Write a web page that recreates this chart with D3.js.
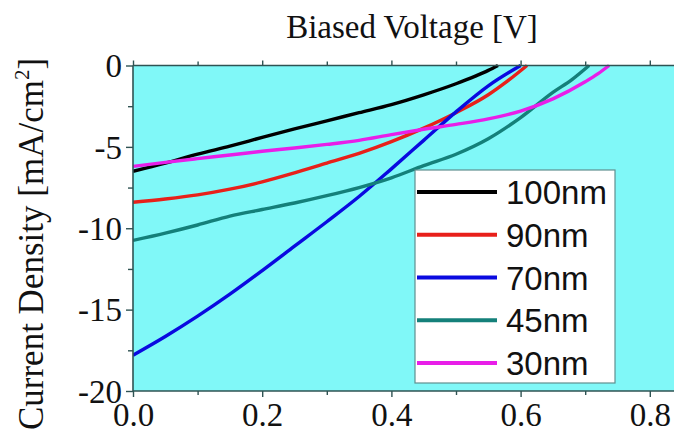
<!DOCTYPE html>
<html>
<head>
<meta charset="utf-8">
<script src="https://cdn.jsdelivr.net/npm/d3@7"></script>
<style>
  html, body { margin: 0; padding: 0; background: #fff; }
  svg { display: block; }
</style>
</head>
<body>
<div id="chart"></div>
<script>
// series: [voltage V, current density mA/cm^2]
const seriesNames = ["100nm", "90nm", "70nm", "45nm", "30nm"];
const seriesColors = ["#000000", "#e8201a", "#0a0ae0", "#14807a", "#e81ee8"];

const curve100 = [[0, -6.5], [0.05, -6.0], [0.1, -5.45], [0.15, -4.95], [0.2, -4.42], [0.25, -3.9],
  [0.3, -3.4], [0.35, -2.9], [0.4, -2.4], [0.45, -1.8], [0.5, -1.12], [0.53, -0.65], [0.55, -0.3], [0.565, 0]];
const curve90 = [[0, -8.4], [0.05, -8.2], [0.1, -7.95], [0.15, -7.6], [0.2, -7.15], [0.25, -6.6],
  [0.3, -6.0], [0.35, -5.4], [0.4, -4.68], [0.45, -3.85], [0.5, -2.9], [0.55, -1.8], [0.58, -0.95], [0.61, 0]];
const curve70 = [[0, -17.8], [0.05, -16.65], [0.1, -15.4], [0.15, -14.05], [0.2, -12.6], [0.25, -11.1],
  [0.3, -9.6], [0.35, -8.05], [0.4, -6.35], [0.45, -4.6], [0.5, -2.85], [0.55, -1.25], [0.6, 0]];
const curve45 = [[0, -10.75], [0.05, -10.3], [0.1, -9.8], [0.15, -9.25], [0.2, -8.85], [0.25, -8.45],
  [0.3, -8.0], [0.35, -7.5], [0.4, -6.9], [0.45, -6.15], [0.5, -5.45], [0.55, -4.5], [0.6, -3.2],
  [0.65, -1.65], [0.68, -0.85], [0.706, 0]];
const curve30 = [[0, -6.2], [0.05, -5.95], [0.1, -5.72], [0.15, -5.5], [0.2, -5.27], [0.25, -5.07],
  [0.3, -4.85], [0.35, -4.6], [0.4, -4.25], [0.45, -3.92], [0.5, -3.62], [0.55, -3.28], [0.6, -2.8],
  [0.65, -2.05], [0.7, -1.0], [0.72, -0.5], [0.737, 0]];
const allCurves = [curve100, curve90, curve70, curve45, curve30];

const xMajorTicks = [0, 0.2, 0.4, 0.6, 0.8];
const xMinorTicks = [0.1, 0.3, 0.5, 0.7];
const yMajorTicks = [0, -5, -10, -15, -20];
const yMinorTicks = [-2.5, -7.5, -12.5, -17.5];

const W = 674, H = 432;
const plotLeft = 133, plotTop = 65.5, plotBottom = 391;
const serif = "'Liberation Serif', 'Times New Roman', serif";
const sans = "'Liberation Sans', Arial, sans-serif";
const axisColor = "#2f5353";

const x = d3.scaleLinear().domain([0, 0.8]).range([plotLeft, plotLeft + 516.8]);
const y = d3.scaleLinear().domain([-20, 0]).range([plotBottom, plotTop]);

const svg = d3.select("#chart").append("svg")
  .attr("width", W).attr("height", H);

// plot background
svg.append("rect")
  .attr("x", plotLeft).attr("y", plotTop)
  .attr("width", W - plotLeft).attr("height", plotBottom - plotTop)
  .attr("fill", "#80f8f8");

svg.append("defs").append("clipPath").attr("id", "clip")
  .append("rect").attr("x", plotLeft).attr("y", plotTop - 2)
  .attr("width", W - plotLeft).attr("height", plotBottom - plotTop + 2);

const line = d3.line()
  .x(d => x(d[0]))
  .y(d => y(d[1]))
  .curve(d3.curveMonotoneX);

const plot = svg.append("g").attr("clip-path", "url(#clip)");
allCurves.forEach((c, i) => {
  plot.append("path")
    .datum(c)
    .attr("fill", "none")
    .attr("stroke", seriesColors[i])
    .attr("stroke-width", 3.4)
    .attr("stroke-linejoin", "round")
    .attr("d", line);
});

// axes (plain hyphen minus like the original)
const xAxisBottom = d3.axisBottom(x).tickValues(xMajorTicks).tickSize(6).tickFormat(d => d.toFixed(1));
const xAxisBottomMinor = d3.axisBottom(x).tickValues(xMinorTicks).tickSize(4).tickFormat("");
const xAxisTop = d3.axisTop(x).tickValues(xMajorTicks).tickSize(5).tickFormat("");
const xAxisTopMinor = d3.axisTop(x).tickValues(xMinorTicks).tickSize(4).tickFormat("");
const yAxis = d3.axisLeft(y).tickValues(yMajorTicks).tickSize(7).tickPadding(4).tickFormat(d => String(d));
const yAxisMinor = d3.axisLeft(y).tickValues(yMinorTicks).tickSize(5).tickFormat("");

function styleAxis(g) {
  g.select(".domain").remove();
  g.selectAll(".tick line").attr("stroke", axisColor).attr("stroke-width", 1.4);
  g.selectAll(".tick text").attr("fill", "#111").style("font-family", serif).style("font-size", "33px");
}

svg.append("g").attr("transform", `translate(0,${plotBottom})`).call(xAxisBottom).call(styleAxis)
  .selectAll(".tick text").attr("dy", "0.72em").attr("y", 11);
svg.append("g").attr("transform", `translate(0,${plotBottom})`).call(xAxisBottomMinor).call(styleAxis);
svg.append("g").attr("transform", `translate(0,${plotTop})`).call(xAxisTop).call(styleAxis);
svg.append("g").attr("transform", `translate(0,${plotTop})`).call(xAxisTopMinor).call(styleAxis);
svg.append("g").attr("transform", `translate(${plotLeft},0)`).call(yAxis).call(styleAxis)
  .selectAll(".tick text").attr("dy", "0.34em");
svg.append("g").attr("transform", `translate(${plotLeft},0)`).call(yAxisMinor).call(styleAxis);

// axis lines
svg.append("line").attr("x1", plotLeft).attr("x2", W).attr("y1", plotTop).attr("y2", plotTop)
  .attr("stroke", axisColor).attr("stroke-width", 1.6);
svg.append("line").attr("x1", plotLeft).attr("x2", W).attr("y1", plotBottom).attr("y2", plotBottom)
  .attr("stroke", axisColor).attr("stroke-width", 1.6);
svg.append("line").attr("x1", plotLeft).attr("x2", plotLeft).attr("y1", plotTop).attr("y2", plotBottom)
  .attr("stroke", axisColor).attr("stroke-width", 1.6);

// titles
svg.append("text")
  .attr("x", 412).attr("y", 38)
  .attr("text-anchor", "middle")
  .style("font-family", serif).style("font-size", "33px").attr("fill", "#111")
  .text("Biased Voltage [V]");

const yTitle = svg.append("text")
  .attr("transform", "translate(43,244) rotate(-90)")
  .attr("text-anchor", "middle")
  .style("font-family", serif).style("font-size", "35px").attr("fill", "#111");
yTitle.append("tspan").text("Current Density [mA/cm");
yTitle.append("tspan").attr("dy", -14).style("font-size", "21px").text("2");
yTitle.append("tspan").attr("dy", 14).text("]");

// legend
const legend = svg.append("g");
legend.append("rect")
  .attr("x", 415).attr("y", 170).attr("width", 200).attr("height", 213)
  .attr("fill", "#fff").attr("stroke", "#5f8f8f").attr("stroke-width", 1.2);
const legendRowY = d3.scalePoint().domain(seriesNames).range([192, 363]);
seriesNames.forEach((name, i) => {
  const ry = legendRowY(name);
  legend.append("line")
    .attr("x1", 417).attr("x2", 497).attr("y1", ry).attr("y2", ry)
    .attr("stroke", seriesColors[i]).attr("stroke-width", 4);
  legend.append("text")
    .attr("x", 506).attr("y", ry + 12)
    .style("font-family", sans).style("font-size", "33px").attr("fill", "#111")
    .text(name);
});
</script>
</body>
</html>
